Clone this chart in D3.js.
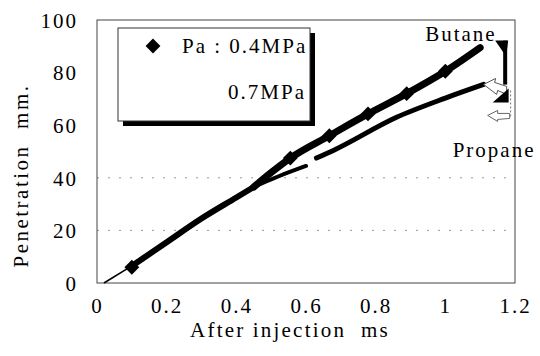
<!DOCTYPE html>
<html>
<head>
<meta charset="utf-8">
<script src="https://cdn.jsdelivr.net/npm/d3@7"></script>
<style>
  html, body { margin: 0; padding: 0; background: #fff; }
  svg { display: block; }
  text { font-family: "Liberation Serif", "Times New Roman", serif; fill: #000; }
</style>
</head>
<body>
<svg id="chart" width="540" height="356"></svg>
<script>
// Spray-tip penetration vs. time after injection
const xTicks = [0, 0.2, 0.4, 0.6, 0.8, 1, 1.2];
const yTicks = [0, 20, 40, 60, 80, 100];
const gridLevels = [20, 40];

// shared early part of both sprays
const commonX = [0.02, 0.1, 0.2, 0.3, 0.4, 0.45];
const commonY = [0, 6.5, 15.5, 24.5, 32.5, 36.5];

// Butane, Pa 0.4 MPa: measured points
const butaneX = [0.1, 0.555, 0.667, 0.778, 0.889, 1.0];
const butaneY = [6, 47.5, 56, 64.3, 72, 80.5];
// Butane fitted curve
const butaneLineX = [0.45, 0.5, 0.555, 0.667, 0.778, 0.889, 1.0, 1.1];
const butaneLineY = [36.5, 42, 47.5, 56, 64.3, 72, 80.5, 89.5];

// Propane curve, drawn in two pieces (short break near 0.6 ms)
const propaneX1 = [0.45, 0.52, 0.6];
const propaneY1 = [36.5, 40.5, 44.5];
const propaneX2 = [0.63, 0.68, 0.86, 1.0, 1.11];
const propaneY2 = [47.5, 50.5, 63, 70.3, 75.5];

const legendLabels = ["Pa : 0.4MPa", "0.7MPa"];
const seriesNames = ["Butane", "Propane"];
const xTitle = "After injection\u00a0\u00a0ms";
const yTitle = "Penetration\u00a0\u00a0mm.";

const svg = d3.select("#chart");
const margin = { left: 97, right: 25, top: 20, bottom: 73 };
const W = 540, H = 356;

const x = d3.scaleLinear().domain([0, 1.2]).range([margin.left, W - margin.right]);
const y = d3.scaleLinear().domain([0, 100]).range([H - margin.bottom, margin.top]);

const LS = "2px";

// faint dotted grid
svg.append("g").selectAll("line").data(gridLevels).join("line")
  .attr("x1", x(0)).attr("x2", x(1.2))
  .attr("y1", d => y(d)).attr("y2", d => y(d))
  .attr("stroke", "#999").attr("stroke-width", 1)
  .attr("stroke-dasharray", "2,9");

// plot frame
svg.append("rect")
  .attr("x", x(0)).attr("y", y(100))
  .attr("width", x(1.2) - x(0)).attr("height", y(0) - y(100))
  .attr("fill", "none").attr("stroke", "#444").attr("stroke-width", 1);

// axes (labels only; frame carries the lines)
const xAxis = svg.append("g")
  .attr("transform", `translate(0,${y(0)})`)
  .call(d3.axisBottom(x).tickValues(xTicks).tickSize(0).tickPadding(0)
    .tickFormat(d => d3.format("")(+d.toFixed(1))));
xAxis.select(".domain").remove();
xAxis.selectAll("text")
  .attr("y", 30).attr("dy", null)
  .style("font-size", "21px").style("letter-spacing", LS)
  .style("font-family", "Liberation Serif").attr("fill", "#000");

const yAxis = svg.append("g")
  .attr("transform", `translate(${x(0)},0)`)
  .call(d3.axisLeft(y).tickValues(yTicks).tickSize(0).tickPadding(0));
yAxis.select(".domain").remove();
yAxis.selectAll("text")
  .attr("x", -19).attr("dy", "0.35em")
  .style("font-size", "21px").style("letter-spacing", LS)
  .style("font-family", "Liberation Serif").attr("fill", "#000");

// axis titles
svg.append("text")
  .attr("x", 290).attr("y", 337)
  .attr("text-anchor", "middle")
  .style("font-size", "21px").style("letter-spacing", "2.2px")
  .text(xTitle);

svg.append("text")
  .attr("transform", `translate(28,${(y(0) + y(100)) / 2 + 24}) rotate(-90)`)
  .attr("text-anchor", "middle")
  .style("font-size", "21px").style("letter-spacing", "2.5px")
  .text(yTitle);

const pts = (xs, ys) => xs.map((v, i) => [v, ys[i]]);
const line = d3.line().x(d => x(d[0])).y(d => y(d[1])).curve(d3.curveMonotoneX);

// thin start of the jet
svg.append("path")
  .attr("d", line(pts(commonX.slice(0, 2), commonY.slice(0, 2))))
  .attr("fill", "none").attr("stroke", "#000").attr("stroke-width", 1.6);

// thick shared section
svg.append("path")
  .attr("d", line(pts(commonX.slice(1), commonY.slice(1))))
  .attr("fill", "none").attr("stroke", "#000").attr("stroke-width", 6)
  .attr("stroke-linecap", "round");

// propane branch
[[propaneX1, propaneY1, 4], [propaneX2, propaneY2, 5]].forEach(([xs, ys, w]) => {
  svg.append("path")
    .attr("d", line(pts(xs, ys)))
    .attr("fill", "none").attr("stroke", "#000").attr("stroke-width", w)
    .attr("stroke-linecap", "round");
});

// butane branch
svg.append("path")
  .attr("d", line(pts(butaneLineX, butaneLineY)))
  .attr("fill", "none").attr("stroke", "#000").attr("stroke-width", 7)
  .attr("stroke-linecap", "round");

// butane markers
const diamond = d3.symbol().type(d3.symbolSquare).size(110);
svg.append("g").selectAll("path").data(pts(butaneX, butaneY)).join("path")
  .attr("d", diamond)
  .attr("transform", d => `translate(${x(d[0])},${y(d[1])}) rotate(45)`)
  .attr("fill", "#000");

// callout marks at the curve ends
const bEnd = [butaneLineX[butaneLineX.length - 1], butaneLineY[butaneLineY.length - 1]];
const pEnd = [propaneX2[propaneX2.length - 1], propaneY2[propaneY2.length - 1]];
const ann = svg.append("g");
const bx = x(bEnd[0]) + 28, by = y(bEnd[1]) - 7;
ann.append("path")
  .attr("d", `M${bx - 13},${by} L${bx},${by} L${bx - 2},${by + 16} Z`)
  .attr("fill", "#000");
ann.append("line")
  .attr("x1", bx - 3).attr("x2", bx - 3).attr("y1", by).attr("y2", by + 44)
  .attr("stroke", "#000").attr("stroke-width", 4);
const px0 = x(pEnd[0]), py0 = y(pEnd[1]);
ann.append("path")
  .attr("d", `M${px0},${py0} L${px0 + 12},${py0 - 6} L${px0 + 11},${py0 - 2} L${px0 + 23},${py0 + 2} L${px0 + 23},${py0 + 10} L${px0 + 14},${py0 + 6} L${px0 + 13},${py0 + 10} Z`)
  .attr("fill", "#fff").attr("stroke", "#555").attr("stroke-width", 1);
ann.append("path")
  .attr("d", `M${px0 + 25},${py0 + 4} L${px0 + 25},${py0 + 18} L${px0 + 9},${py0 + 18} Z`)
  .attr("fill", "#000");
ann.append("path")
  .attr("d", `M${px0 + 4},${py0 + 31} L${px0 + 14},${py0 + 26} L${px0 + 14},${py0 + 29} L${px0 + 26},${py0 + 29} L${px0 + 26},${py0 + 34} L${px0 + 14},${py0 + 35} L${px0 + 14},${py0 + 37} Z`)
  .attr("fill", "#fff").attr("stroke", "#666").attr("stroke-width", 1);
ann.append("line")
  .attr("x1", px0 + 27).attr("x2", px0 + 27).attr("y1", py0 + 6).attr("y2", py0 + 34)
  .attr("stroke", "#777").attr("stroke-width", 1).attr("stroke-dasharray", "2,2");

// series labels
svg.append("text")
  .attr("x", x(bEnd[0]) - 55).attr("y", y(bEnd[1]) - 7)
  .style("font-size", "21px").style("letter-spacing", LS)
  .text(seriesNames[0]);
svg.append("text")
  .attr("x", x(pEnd[0]) - 31).attr("y", y(pEnd[1]) + 73)
  .style("font-size", "21px").style("letter-spacing", LS)
  .text(seriesNames[1]);

// legend box with drop shadow
const lg = svg.append("g");
lg.append("rect").attr("x", 123).attr("y", 33).attr("width", 192).attr("height", 93).attr("fill", "#000");
lg.append("rect").attr("x", 118).attr("y", 28).attr("width", 192).attr("height", 93)
  .attr("fill", "#fff").attr("stroke", "#333").attr("stroke-width", 1);
lg.append("path").attr("d", diamond)
  .attr("transform", "translate(153,46) rotate(45)").attr("fill", "#000");
lg.append("text").attr("x", 182).attr("y", 53)
  .style("font-size", "21px").style("letter-spacing", LS)
  .text(legendLabels[0]);
lg.append("text").attr("x", 306).attr("y", 99).attr("text-anchor", "end")
  .style("font-size", "21px").style("letter-spacing", LS)
  .text(legendLabels[1]);
</script>
</body>
</html>
